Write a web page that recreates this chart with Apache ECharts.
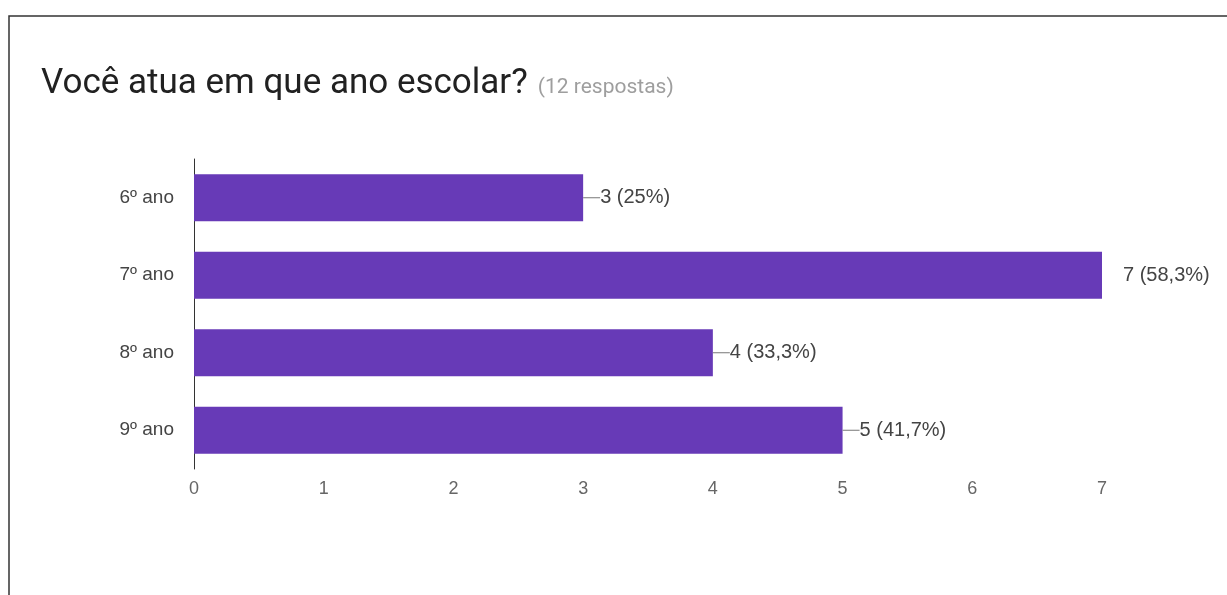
<!DOCTYPE html>
<html>
<head>
<meta charset="utf-8">
<script src="https://cdn.jsdelivr.net/npm/echarts@6/dist/echarts.min.js"></script>
<style>
  html, body { margin: 0; padding: 0; background: #fff; }
  #chart { width: 1227px; height: 595px; }
</style>
</head>
<body>
<div id="chart"></div>
<script>
// dados do gráfico
const categories = ['6º ano', '7º ano', '8º ano', '9º ano']
const counts = [3, 7, 4, 5]
const totalAnswers = 12
const xTicks = [0, 1, 2, 3, 4, 5, 6, 7]

const chart = echarts.init(document.getElementById('chart'))
const maxCount = Math.max(...counts)

// "3 (25%)", "7 (58,3%)" ...
function pctText(v) {
  let p = (v / totalAnswers * 100).toFixed(1)
  if (p.endsWith('.0')) p = p.slice(0, -2)
  return v + ' (' + p.replace('.', ',') + '%)'
}

const barData = counts.map((v) => {
  const isMax = v === maxCount
  return {
    value: v,
    label: {
      distance: isMax ? 21 : 0,
      formatter: isMax ? pctText(v) : '{ln|}' + pctText(v)
    }
  }
})

const option = {
  animation: false,
  title: {
    left: 36,
    top: 62,
    text: '{a|Você atua em que ano escolar?}  {b|(12 respostas)}',
    textStyle: {
      rich: {
        a: { fontFamily: 'Roboto', fontWeight: 'normal', fontSize: 35, color: '#212121' },
        b: { fontFamily: 'Roboto', fontWeight: 'normal', fontSize: 21, color: '#9e9e9e', padding: [6, 0, 0, 0] }
      }
    }
  },
  graphic: [
    {
      type: 'rect',
      shape: { x: 9, y: 16, width: 1300, height: 700 },
      style: { fill: 'none', stroke: '#333', lineWidth: 1.5 },
      silent: true
    }
  ],
  grid: {
    left: 194,
    right: 125,
    top: 159,
    bottom: 126
  },
  xAxis: {
    type: 'value',
    min: xTicks[0],
    max: xTicks[xTicks.length - 1],
    interval: 1,
    axisLine: { show: false },
    axisTick: { show: false },
    splitLine: { show: false },
    axisLabel: {
      margin: 11,
      color: '#666',
      fontFamily: 'Liberation Sans',
      fontSize: 18
    }
  },
  yAxis: {
    type: 'category',
    data: categories,
    inverse: true,
    axisLine: { show: true, lineStyle: { color: '#333', width: 1 } },
    axisTick: { show: false },
    axisLabel: {
      margin: 20,
      color: '#444',
      fontFamily: 'Liberation Sans',
      fontSize: 19
    }
  },
  series: [
    {
      type: 'bar',
      data: barData,
      barWidth: 47,
      itemStyle: { color: '#673ab7' },
      label: {
        show: true,
        position: 'right',
        color: '#444',
        fontFamily: 'Liberation Sans',
        fontSize: 20,
        rich: {
          ln: { width: 17, height: 1, backgroundColor: '#777', padding: 0 }
        }
      }
    }
  ]
}

chart.setOption(option)
</script>
</body>
</html>
